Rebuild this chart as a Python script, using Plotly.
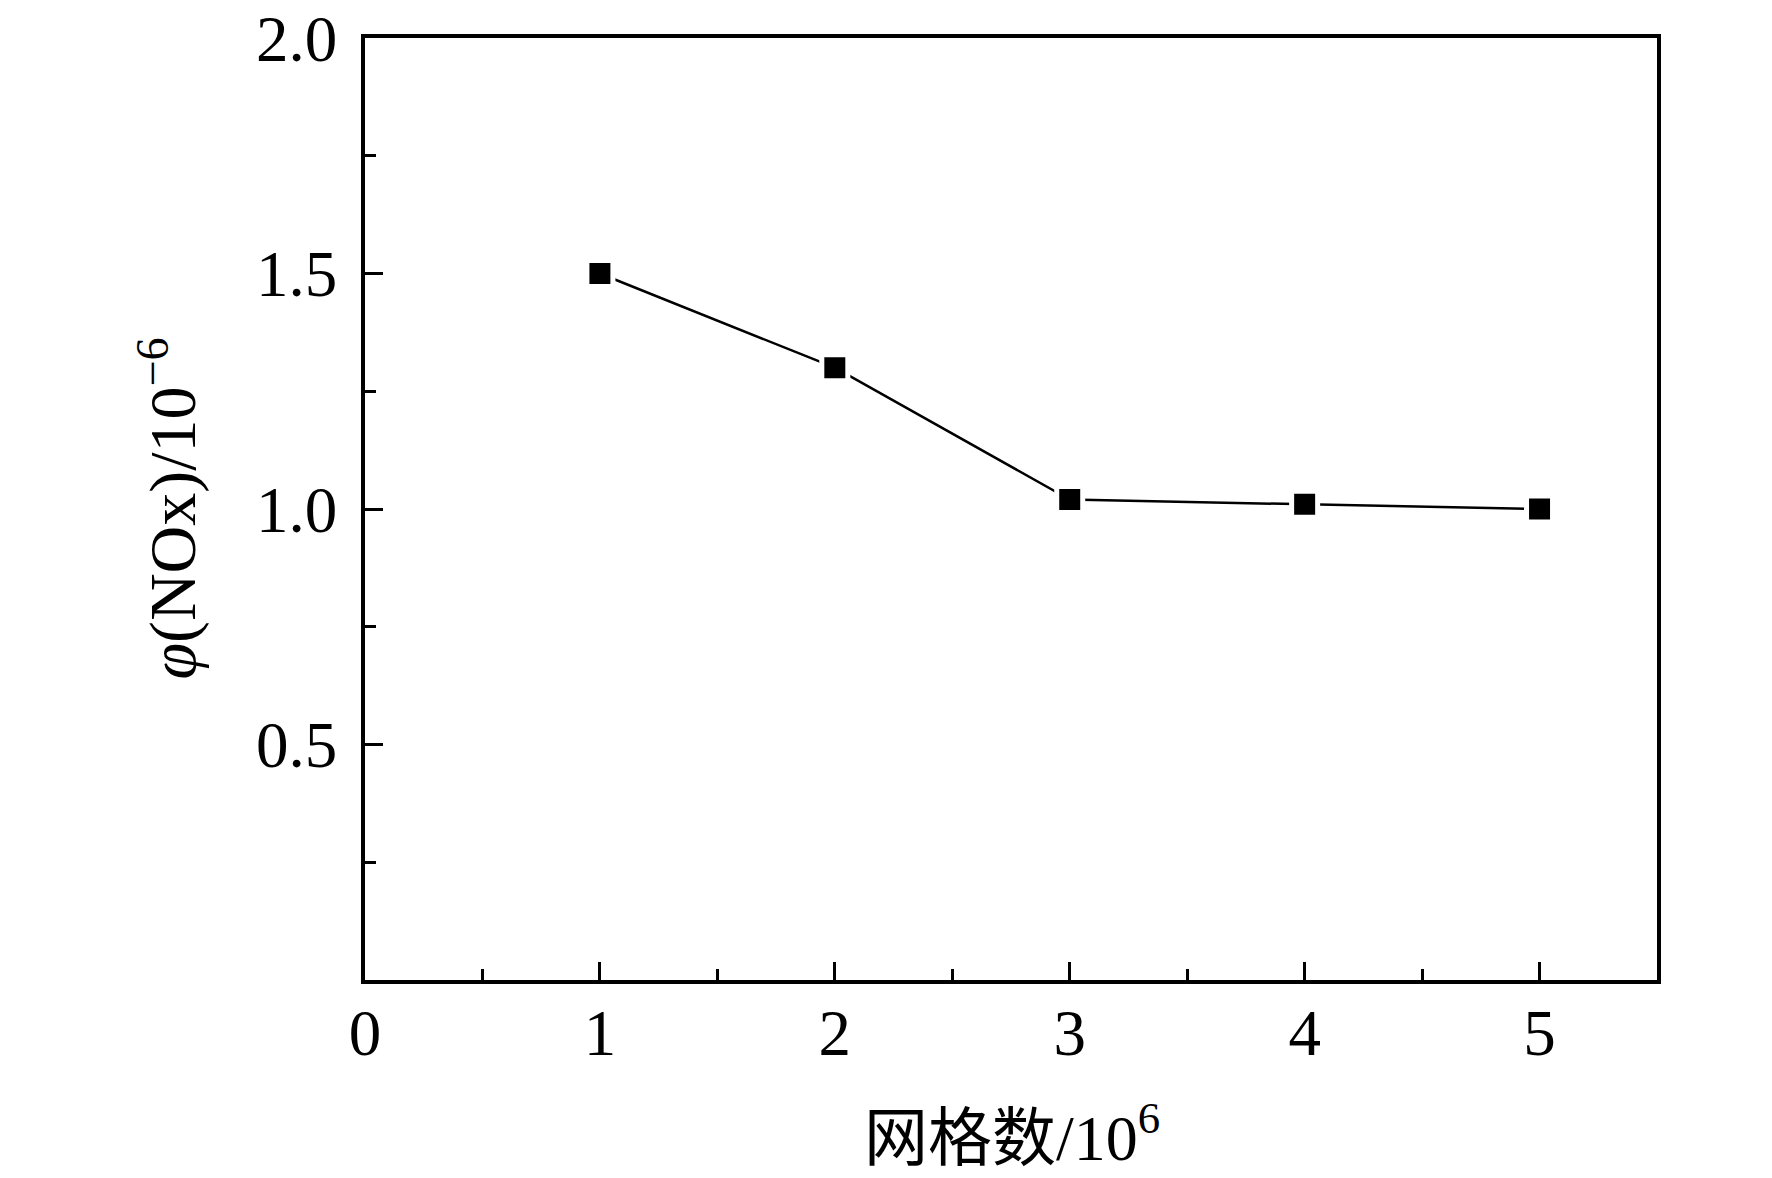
import plotly.graph_objects as go

# 网格数 (x10^6) vs NOx
wangge = [1, 2, 3, 4, 5]
nox = [1.5, 1.3, 1.02, 1.01, 1.0]

y_tickvals = [0.5, 1.0, 1.5, 2.0]
y_ticktext = ['0.5', '1.0', '1.5', '2.0']
x_tickvals = [0, 1, 2, 3, 4, 5]
x_ticktext = ['0', '1', '2', '3', '4', '5']

serif = 'Liberation Serif, Times New Roman, Noto Sans CJK SC'

fig = go.Figure()
fig.add_trace(go.Scatter(
    x=wangge, y=nox,
    mode='lines+markers',
    line=dict(color='black', width=2.5),
    # white outline leaves a small gap between line and square, like Origin
    marker=dict(symbol='square', size=26, color='black',
                line=dict(color='white', width=5)),
    showlegend=False,
))

axis_common = dict(
    showline=True, linecolor='black', linewidth=3.5, mirror=True,
    ticks='inside', ticklen=18, tickwidth=3, tickcolor='black',
    showgrid=False, zeroline=False,
    automargin=False, ticklabeloverflow='allow',
    tickfont=dict(family=serif, size=65, color='black'),
)

fig.update_xaxes(range=[0, 5.5], tickvals=x_tickvals, ticktext=x_ticktext,
                 minor=dict(dtick=0.5, tick0=0, ticks='inside', ticklen=11,
                            tickwidth=3, tickcolor='black'),
                 ticklabelstandoff=-7,
                 **axis_common)
fig.update_yaxes(range=[0, 2.0], tickvals=y_tickvals, ticktext=y_ticktext,
                 minor=dict(dtick=0.25, tick0=0, ticks='inside', ticklen=11,
                            tickwidth=3, tickcolor='black'),
                 ticklabelstandoff=11,
                 **axis_common)

fig.add_annotation(
    text='<i>φ</i>(NOx)/10<sup>−6</sup>',
    xref='paper', yref='paper', x=-0.152, y=0.50,
    xanchor='center', yanchor='middle', textangle=-90, showarrow=False,
    font=dict(family=serif, size=66, color='black'),
)
fig.add_annotation(
    text='网格数/10<sup>6</sup>',
    xref='paper', yref='paper', x=0.501, y=-0.163,
    xanchor='center', yanchor='middle', showarrow=False,
    font=dict(family=serif, size=64, color='black'),
)

fig.update_layout(
    width=1772, height=1178,
    margin=dict(l=357, r=123, t=30, b=206),
    plot_bgcolor='white', paper_bgcolor='white',
)

fig.write_html("out.html")
